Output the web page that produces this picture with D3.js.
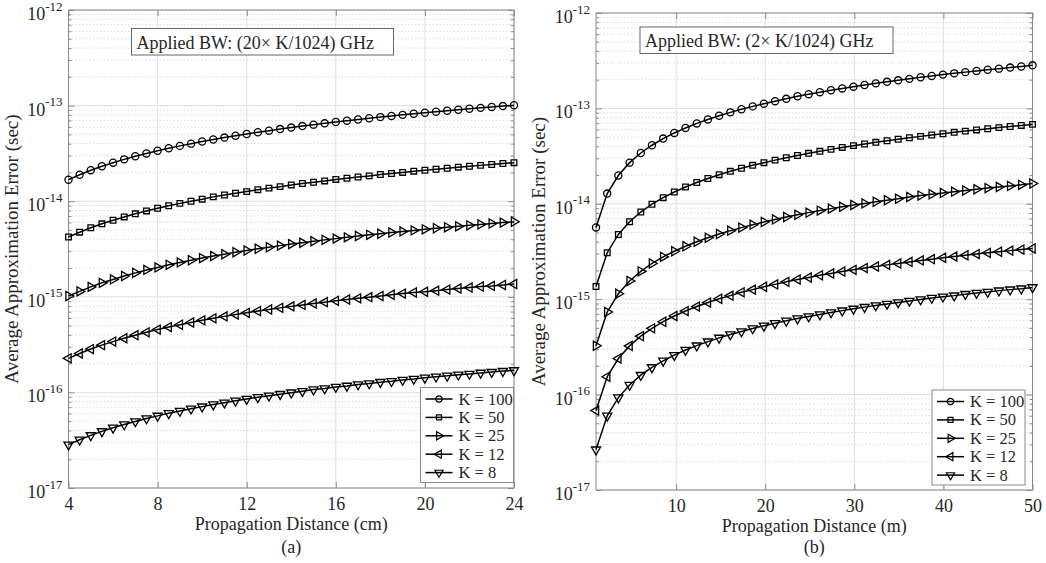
<!DOCTYPE html>
<html>
<head>
<meta charset="utf-8">
<script src="https://cdn.jsdelivr.net/npm/d3@7"></script>
<style>
  body { margin: 0; background: #fff; }
  svg text { font-family: "Liberation Serif", "Times New Roman", serif; fill: #262626; }
</style>
</head>
<body>
<svg width="1046" height="563"></svg>
<script>
// values are in fs (1e-15 sec)
const distCm = [4, 4.5, 5, 5.5, 6, 6.5, 7, 7.5, 8, 8.5, 9, 9.5, 10, 10.5, 11, 11.5, 12, 12.5, 13, 13.5,
  14, 14.5, 15, 15.5, 16, 16.5, 17, 17.5, 18, 18.5, 19, 19.5, 20, 20.5, 21, 21.5, 22, 22.5, 23, 23.5, 24];
const errCmK100 = [16.8, 18.9, 21.1, 23.2, 25.3, 27.4, 29.5, 31.6, 33.7, 35.8, 37.9, 40.0, 42.1, 44.2, 46.3,
  48.4, 50.5, 52.6, 54.7, 56.8, 58.9, 61.1, 63.2, 65.3, 67.4, 69.5, 71.6, 73.7, 75.8, 77.9, 80.0, 82.1,
  84.2, 86.3, 88.4, 90.5, 92.6, 94.7, 96.8, 98.9, 101];
const errCmK50 = [4.22, 4.74, 5.27, 5.80, 6.32, 6.85, 7.38, 7.91, 8.43, 8.96, 9.49, 10.0, 10.5, 11.1, 11.6,
  12.1, 12.6, 13.2, 13.7, 14.2, 14.8, 15.3, 15.8, 16.3, 16.9, 17.4, 17.9, 18.4, 19.0, 19.5, 20.0, 20.6,
  21.1, 21.6, 22.1, 22.7, 23.2, 23.7, 24.2, 24.8, 25.3];
const errCmK25 = [1.02, 1.14, 1.27, 1.40, 1.52, 1.65, 1.78, 1.91, 2.03, 2.16, 2.29, 2.41, 2.54, 2.67, 2.79,
  2.92, 3.05, 3.18, 3.30, 3.43, 3.56, 3.68, 3.81, 3.94, 4.06, 4.19, 4.32, 4.45, 4.57, 4.70, 4.83, 4.95,
  5.08, 5.21, 5.33, 5.46, 5.59, 5.72, 5.84, 5.97, 6.10];
const errCmK12 = [0.227, 0.255, 0.284, 0.312, 0.340, 0.369, 0.397, 0.425, 0.454, 0.482, 0.510, 0.539, 0.567,
  0.595, 0.624, 0.652, 0.680, 0.709, 0.737, 0.766, 0.794, 0.822, 0.851, 0.879, 0.907, 0.936, 0.964, 0.992,
  1.02, 1.05, 1.08, 1.11, 1.13, 1.16, 1.19, 1.22, 1.25, 1.28, 1.30, 1.33, 1.36];
const errCmK8 = [0.0284, 0.0320, 0.0355, 0.0391, 0.0426, 0.0462, 0.0497, 0.0533, 0.0568, 0.0604, 0.0639,
  0.0675, 0.0710, 0.0746, 0.0781, 0.0817, 0.0852, 0.0888, 0.0923, 0.0959, 0.0994, 0.103, 0.107, 0.110,
  0.114, 0.117, 0.121, 0.124, 0.128, 0.131, 0.135, 0.138, 0.142, 0.146, 0.149, 0.153, 0.156, 0.160,
  0.163, 0.167, 0.170];

const distM = [1, 2.26, 3.51, 4.77, 6.03, 7.28, 8.54, 9.79, 11.05, 12.31, 13.56, 14.82, 16.08, 17.33, 18.59,
  19.85, 21.1, 22.36, 23.62, 24.87, 26.13, 27.38, 28.64, 29.9, 31.15, 32.41, 33.67, 34.92, 36.18, 37.44,
  38.69, 39.95, 41.21, 42.46, 43.72, 44.97, 46.23, 47.49, 48.74, 50];
const errMK100 = [5.65, 12.8, 19.8, 27.0, 34.1, 41.1, 48.3, 55.3, 62.4, 69.6, 76.6, 83.7, 90.9, 97.9, 105,
  112, 119, 126, 134, 141, 148, 155, 162, 169, 176, 183, 190, 197, 204, 212, 219, 226, 233, 240, 247,
  254, 261, 268, 275, 283];
const errMK50 = [1.36, 3.07, 4.77, 6.49, 8.20, 9.90, 11.6, 13.3, 15.0, 16.7, 18.4, 20.2, 21.9, 23.6, 25.3,
  27.0, 28.7, 30.4, 32.1, 33.8, 35.5, 37.2, 39.0, 40.7, 42.4, 44.1, 45.8, 47.5, 49.2, 50.9, 52.6, 54.3,
  56.1, 57.8, 59.5, 61.2, 62.9, 64.6, 66.3, 68.0];
const errMK25 = [0.325, 0.735, 1.14, 1.55, 1.96, 2.37, 2.78, 3.18, 3.59, 4.00, 4.41, 4.82, 5.23, 5.63,
  6.04, 6.45, 6.86, 7.27, 7.68, 8.08, 8.49, 8.90, 9.31, 9.72, 10.1, 10.5, 10.9, 11.3, 11.8, 12.2, 12.6,
  13.0, 13.4, 13.8, 14.2, 14.6, 15.0, 15.4, 15.8, 16.3];
const errMK12 = [0.068, 0.154, 0.239, 0.324, 0.410, 0.495, 0.581, 0.666, 0.751, 0.837, 0.922, 1.01, 1.09,
  1.18, 1.26, 1.35, 1.43, 1.52, 1.61, 1.69, 1.78, 1.86, 1.95, 2.03, 2.12, 2.20, 2.29, 2.37, 2.46, 2.55,
  2.63, 2.72, 2.80, 2.89, 2.97, 3.06, 3.14, 3.23, 3.31, 3.40];
const errMK8 = [0.0265, 0.0599, 0.0930, 0.126, 0.160, 0.193, 0.226, 0.259, 0.293, 0.326, 0.359, 0.393,
  0.426, 0.459, 0.493, 0.526, 0.559, 0.593, 0.626, 0.659, 0.692, 0.726, 0.759, 0.792, 0.826, 0.859, 0.892,
  0.925, 0.959, 0.992, 1.03, 1.06, 1.09, 1.13, 1.16, 1.19, 1.23, 1.26, 1.29, 1.33];

const kLabels = ["K = 100", "K = 50", "K = 25", "K = 12", "K = 8"];
const ticksCm = [4, 8, 12, 16, 20, 24];
const ticksM = [10, 20, 30, 40, 50];
const decades = [1e-17, 1e-16, 1e-15, 1e-14, 1e-13, 1e-12];

const svg = d3.select("svg");

// marker style per series (matlab o, s, >, <, v)
const markers = [
  { type: d3.symbolCircle, size: 40, rot: 0 },
  { type: d3.symbolSquare, size: 32, rot: 0 },
  { type: d3.symbolTriangle, size: 36, rot: 90 },
  { type: d3.symbolTriangle, size: 36, rot: -90 },
  { type: d3.symbolTriangle, size: 36, rot: 180 }
];

function drawPanel(p) {
  const g = svg.append("g");
  const x = d3.scaleLinear().domain(p.xDomain).range([p.left, p.right]);
  const y = d3.scaleLog().domain([1e-17, 1e-12]).range([p.bottom, p.top]);

  const allY = y.ticks();
  const isMajor = v => Math.abs(Math.log10(v) - Math.round(Math.log10(v))) < 1e-6;
  const minorY = allY.filter(v => !isMajor(v));

  // grid
  g.selectAll(".minorgrid").data(minorY).enter().append("line")
    .attr("x1", p.left).attr("x2", p.right)
    .attr("y1", d => y(d)).attr("y2", d => y(d))
    .attr("stroke", "#d0d0d0").attr("stroke-width", 0.8).attr("stroke-dasharray", "1.5,2");
  g.selectAll(".majgrid").data(decades).enter().append("line")
    .attr("x1", p.left).attr("x2", p.right)
    .attr("y1", d => y(d)).attr("y2", d => y(d))
    .attr("stroke", "#e0e0e0").attr("stroke-width", 1);
  g.selectAll(".xgrid").data(p.xTicks).enter().append("line")
    .attr("x1", d => x(d)).attr("x2", d => x(d))
    .attr("y1", p.top).attr("y2", p.bottom)
    .attr("stroke", "#e0e0e0").attr("stroke-width", 1);

  // ticks (inside, matlab style)
  const tickCol = "#8a8a8a";
  function styleAxis(sel) {
    sel.select(".domain").remove();
    sel.selectAll("line").attr("stroke", tickCol);
  }
  g.append("g").attr("transform", `translate(${p.left},0)`)
    .call(d3.axisLeft(y).tickValues(decades).tickSizeInner(-6).tickSizeOuter(0).tickFormat(""))
    .call(styleAxis);
  g.append("g").attr("transform", `translate(${p.left},0)`)
    .call(d3.axisLeft(y).tickValues(minorY).tickSizeInner(-3).tickSizeOuter(0).tickFormat(""))
    .call(styleAxis);
  g.append("g").attr("transform", `translate(${p.right},0)`)
    .call(d3.axisRight(y).tickValues(decades).tickSizeInner(-6).tickSizeOuter(0).tickFormat(""))
    .call(styleAxis);
  g.append("g").attr("transform", `translate(${p.right},0)`)
    .call(d3.axisRight(y).tickValues(minorY).tickSizeInner(-3).tickSizeOuter(0).tickFormat(""))
    .call(styleAxis);
  g.append("g").attr("transform", `translate(0,${p.top})`)
    .call(d3.axisTop(x).tickValues(p.xTicks).tickSizeInner(-6).tickSizeOuter(0).tickFormat(""))
    .call(styleAxis);
  const xAxisG = g.append("g").attr("transform", `translate(0,${p.bottom})`)
    .call(d3.axisBottom(x).tickValues(p.xTicks).tickSizeInner(-6).tickSizeOuter(0).tickPadding(9))
    .call(styleAxis);
  xAxisG.selectAll("text")
    .attr("font-size", 18).attr("font-family", "Liberation Serif, serif").attr("fill", "#262626");

  // frame
  g.append("rect")
    .attr("x", p.left).attr("y", p.top)
    .attr("width", p.right - p.left).attr("height", p.bottom - p.top)
    .attr("fill", "none").attr("stroke", tickCol).attr("stroke-width", 1);

  // y labels 10^n
  decades.forEach(d => {
    const t = g.append("text")
      .attr("x", p.left - 6).attr("y", y(d) + 10)
      .attr("text-anchor", "end").attr("font-size", 18);
    t.append("tspan").text("10");
    t.append("tspan").attr("dy", -9.5).attr("font-size", 13).text(Math.round(Math.log10(d)));
  });

  // curves
  const line = d3.line().x(d => x(d[0])).y(d => y(d[1] * 1e-15));
  p.series.forEach((vals, i) => {
    const pts = p.dist.map((dv, j) => [dv, vals[j]]);
    g.append("path").datum(pts)
      .attr("d", line).attr("fill", "none").attr("stroke", "#000").attr("stroke-width", 1.5);
    const m = markers[i];
    g.selectAll(".mk" + i).data(pts).enter().append("path")
      .attr("d", d3.symbol().type(m.type).size(m.size))
      .attr("transform", d => `translate(${x(d[0])},${y(d[1] * 1e-15)}) rotate(${m.rot})`)
      .attr("fill", "none").attr("stroke", "#000").attr("stroke-width", 1.3);
  });

  // annotation box
  g.append("rect")
    .attr("x", p.noteBox[0]).attr("y", p.noteBox[1])
    .attr("width", p.noteBox[2]).attr("height", p.noteBox[3])
    .attr("fill", "#fff").attr("stroke", "#666").attr("stroke-width", 1);
  g.append("text")
    .attr("x", p.noteBox[0] + 5).attr("y", p.noteBox[1] + 20)
    .attr("font-size", 18).text(p.note);

  // legend
  const lg = g.append("g").attr("transform", `translate(${p.legend[0]},${p.legend[1]})`);
  lg.append("rect").attr("width", 93).attr("height", 95)
    .attr("fill", "#fff").attr("stroke", "#8a8a8a").attr("stroke-width", 1);
  kLabels.forEach((lab, i) => {
    const cy = 11.5 + i * 18.4;
    lg.append("line").attr("x1", 5).attr("x2", 32).attr("y1", cy).attr("y2", cy)
      .attr("stroke", "#000").attr("stroke-width", 1.5);
    const m = markers[i];
    lg.append("path")
      .attr("d", d3.symbol().type(m.type).size(m.size * 0.8))
      .attr("transform", `translate(18.5,${cy}) rotate(${m.rot})`)
      .attr("fill", "none").attr("stroke", "#000").attr("stroke-width", 1.2);
    lg.append("text").attr("x", 38).attr("y", cy + 5.5).attr("font-size", 16.5).text(lab);
  });

  // axis titles
  const cx = (p.left + p.right) / 2;
  g.append("text").attr("x", cx).attr("y", p.bottom + 42)
    .attr("text-anchor", "middle").attr("font-size", 18).text(p.xTitle);
  g.append("text").attr("x", cx).attr("y", 553)
    .attr("text-anchor", "middle").attr("font-size", 18).text(p.tag);
  g.append("text")
    .attr("transform", `translate(${p.left - 51},${(p.top + p.bottom) / 2}) rotate(-90)`)
    .attr("text-anchor", "middle").attr("font-size", 19)
    .text("Average Approximation Error (sec)");
}

drawPanel({
  left: 68.5, right: 514, top: 10, bottom: 488,
  xDomain: [4, 24], xTicks: ticksCm, dist: distCm,
  series: [errCmK100, errCmK50, errCmK25, errCmK12, errCmK8],
  note: "Applied BW: (20\u00d7 K/1024) GHz", noteBox: [131.5, 28.5, 262, 26.5],
  legend: [420.5, 387.5],
  xTitle: "Propagation Distance (cm)", tag: "(a)"
});
drawPanel({
  left: 596, right: 1032.5, top: 13, bottom: 490,
  xDomain: [1, 50], xTicks: ticksM, dist: distM,
  series: [errMK100, errMK50, errMK25, errMK12, errMK8],
  note: "Applied BW: (2\u00d7 K/1024) GHz", noteBox: [640, 27, 253, 26.5],
  legend: [932, 390],
  xTitle: "Propagation Distance (m)", tag: "(b)"
});
</script>
</body>
</html>
